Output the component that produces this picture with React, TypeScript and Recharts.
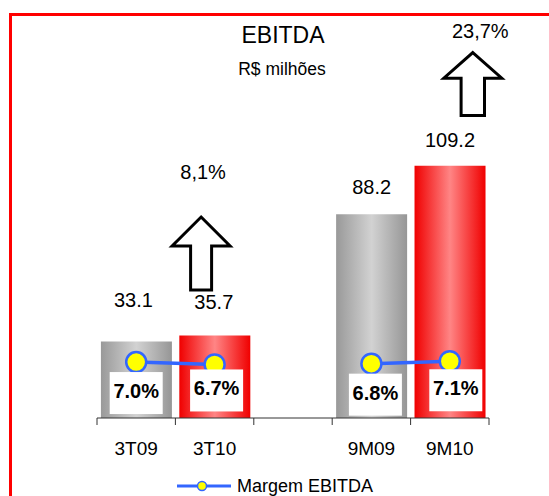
import React from 'react';
import {
  ComposedChart,
  Bar,
  Line,
  XAxis,
  YAxis,
  Cell,
  LabelList,
  Legend,
  ReferenceDot,
  Customized,
} from 'recharts';

// ---- data ----
const categories = ['3T09', '3T10', '', '9M09', '9M10'];
const ebitdaValues = [33.1, 35.7, null, 88.2, 109.2];
const margemValues = [7.0, 6.7, null, 6.8, 7.1];
const margemLabels = ['7.0%', '6.7%', '', '6.8%', '7.1%'];
const barKinds = ['prev', 'curr', null, 'prev', 'curr'];
const growthCategories = ['3T10', '9M10'];
const growthLabels = ['8,1%', '23,7%'];
const titleText = 'EBITDA';
const subtitleText = 'R$ milhões';
const legendText = 'Margem EBITDA';

// ---- styling / layout ----
const W = 549;
const H = 496;
const MARGIN = { top: 68, right: 60, left: 97, bottom: 48 };
const PLOT_W = W - MARGIN.left - MARGIN.right;
const BAND = PLOT_W / categories.length;
const FONT = '"Liberation Sans", Arial, sans-serif';
const BLUE = '#3366ff';
const valueLift = [35, 27, 0, 19, 20];
const valueDx = [-3, -1, 0, 0, 0];
const boxDx = [0, 2, 0, 4, 6];
const boxDy = [10, 5, 0, 10, 8];
const arrowAnchorY = [55.4, 130.9];
const arrowSpecs = [
  { dx: -13.5, totalH: 73, headH: 29, headHalf: 29, shaftHalf: 10.5, labelDx: -11.5, labelRise: 110.7 },
  { dx: 23, totalH: 63, headH: 25.6, headHalf: 29, shaftHalf: 11.7, labelDx: 30.5, labelRise: 78 },
];

const data = categories.map((c, i) => ({
  cat: c,
  ebitda: ebitdaValues[i],
  margem: margemValues[i],
}));

const CatTick = (props: any) => {
  const { x, y, payload, index } = props;
  const axisY = y - 24;
  const left = x - BAND / 2;
  const right = x + BAND / 2;
  return (
    <g>
      <line x1={left} x2={left} y1={axisY} y2={axisY + 7} stroke="#333" strokeWidth={1} />
      {index === categories.length - 1 && (
        <line x1={right} x2={right} y1={axisY} y2={axisY + 7} stroke="#333" strokeWidth={1} />
      )}
      <text
        x={x}
        y={y}
        dy="0.71em"
        textAnchor="middle"
        fontFamily={FONT}
        fontSize={19}
        fill="#000"
      >
        {payload.value}
      </text>
    </g>
  );
};

const ValueLabel = (props: any) => {
  const { index, value } = props;
  const vb = props.viewBox || props;
  if (value == null) return null;
  const x = vb.x + vb.width / 2 + (valueDx[index] || 0);
  const y = vb.y - (valueLift[index] || 20);
  return (
    <text x={x} y={y} textAnchor="middle" fontFamily={FONT} fontSize={20} fill="#000">
      {Number(value).toFixed(1)}
    </text>
  );
};

const MargemLabel = (props: any) => {
  const { index, value } = props;
  if (value == null) return null;
  const cx = props.x + (boxDx[index] || 0);
  const top = props.y + (boxDy[index] || 8);
  return (
    <g>
      <rect x={cx - 26.5} y={top} width={53} height={42} fill="#ffffff" />
      <text
        x={cx}
        y={top + 26}
        textAnchor="middle"
        fontFamily={FONT}
        fontSize={20}
        fontWeight="bold"
        fill="#000"
      >
        {margemLabels[index]}
      </text>
    </g>
  );
};

const makeArrow = (i: number) => (p: any) => {
  const s = arrowSpecs[i];
  const cx = p.cx + s.dx;
  const by = p.cy;
  const ty = by - s.totalH;
  const hy = ty + s.headH;
  const d = `M${cx},${ty} L${cx + s.headHalf},${hy} L${cx + s.shaftHalf},${hy} L${cx + s.shaftHalf},${by} L${cx - s.shaftHalf},${by} L${cx - s.shaftHalf},${hy} L${cx - s.headHalf},${hy} Z`;
  return (
    <g>
      <path d={d} fill="#ffffff" stroke="#000" strokeWidth={3} strokeLinejoin="miter" />
      <text
        x={p.cx + s.labelDx}
        y={by - s.labelRise}
        textAnchor="middle"
        fontFamily={FONT}
        fontSize={20}
        fill="#000"
      >
        {growthLabels[i]}
      </text>
    </g>
  );
};

const Titles = () => (
  <g>
    <text x={283} y={43} textAnchor="middle" fontFamily={FONT} fontSize={23} fill="#000">
      {titleText}
    </text>
    <text x={282} y={75} textAnchor="middle" fontFamily={FONT} fontSize={17.5} fill="#000">
      {subtitleText}
    </text>
  </g>
);

const LegendContent = () => (
  <div
    style={{
      display: 'flex',
      justifyContent: 'center',
      alignItems: 'center',
      width: W,
      height: 22,
      fontFamily: FONT,
    }}
  >
    <svg width={56} height={22} style={{ display: 'block' }}>
      <line x1={1} x2={55} y1={11} y2={11} stroke={BLUE} strokeWidth={3} />
      <circle cx={26} cy={11} r={4.5} fill="#ffff00" stroke={BLUE} strokeWidth={1.5} />
    </svg>
    <span style={{ marginLeft: 5, fontSize: 18, color: '#000', lineHeight: '22px' }}>{legendText}</span>
  </div>
);

export default function App() {
  return (
    <div
      style={{
        position: 'absolute',
        left: 0,
        top: 0,
        width: W,
        height: H,
        overflow: 'hidden',
        background: '#ffffff',
      }}
    >
      <div
        style={{
          position: 'absolute',
          left: 9,
          top: 13,
          width: 700,
          height: 700,
          borderLeft: '3px solid #ff0000',
          borderTop: '3px solid #ff0000',
          boxSizing: 'border-box',
        }}
      />
      <div style={{ position: 'absolute', left: 0, top: 0 }}>
        <ComposedChart width={W} height={H} data={data} margin={MARGIN} barCategoryGap="5%">
          <defs>
            <linearGradient id="gradPrev" x1="0" y1="0" x2="1" y2="0">
              <stop offset="0%" stopColor="#999999" />
              <stop offset="50%" stopColor="#d2d2d2" />
              <stop offset="100%" stopColor="#969696" />
            </linearGradient>
            <linearGradient id="gradCurr" x1="0" y1="0" x2="1" y2="0">
              <stop offset="0%" stopColor="#f00000" />
              <stop offset="50%" stopColor="#ff8585" />
              <stop offset="100%" stopColor="#f00000" />
            </linearGradient>
          </defs>
          <XAxis
            dataKey="cat"
            interval={0}
            height={30}
            tickLine={false}
            tickSize={0}
            tickMargin={24}
            axisLine={{ stroke: '#333', strokeWidth: 1 }}
            tick={<CatTick />}
          />
          <YAxis yAxisId="left" hide domain={[0, 151.5]} allowDataOverflow />
          <YAxis yAxisId="right" orientation="right" hide domain={[0, 43.8]} allowDataOverflow />
          <Customized component={<Titles />} />
          <Bar yAxisId="left" dataKey="ebitda" isAnimationActive={false}>
            {data.map((d, i) => (
              <Cell
                key={i}
                fill={barKinds[i] === 'curr' ? 'url(#gradCurr)' : 'url(#gradPrev)'}
              />
            ))}
            <LabelList dataKey="ebitda" content={<ValueLabel />} />
          </Bar>
          <Line
            yAxisId="right"
            dataKey="margem"
            stroke={BLUE}
            strokeWidth={3.5}
            dot={{ r: 10, fill: '#ffff00', stroke: BLUE, strokeWidth: 2.5 }}
            activeDot={false}
            isAnimationActive={false}
            legendType="line"
          >
            <LabelList dataKey="margem" content={<MargemLabel />} />
          </Line>
          {growthCategories.map((c, i) => (
            <ReferenceDot
              key={c}
              yAxisId="left"
              x={c}
              y={arrowAnchorY[i]}
              r={0}
              ifOverflow="visible"
              shape={makeArrow(i)}
            />
          ))}
          <Legend
            layout="horizontal"
            verticalAlign="middle"
            align="center"
            wrapperStyle={{ top: 475, left: 0, width: W, height: 22 }}
            content={<LegendContent />}
          />
        </ComposedChart>
      </div>
    </div>
  );
}
